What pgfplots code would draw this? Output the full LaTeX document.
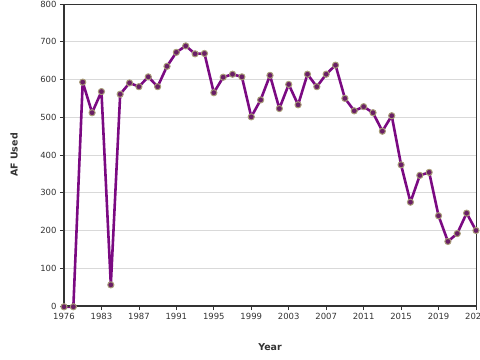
\documentclass[border=0pt]{standalone}
\usepackage{fontspec}
\setmainfont{DejaVu Sans}
\usepackage{pgfplots}
\pgfplotsset{compat=1.18}
\definecolor{linepurple}{HTML}{7B0A82}
\definecolor{markfill}{HTML}{6A1F66}
\definecolor{markedge}{HTML}{A89C78}
\definecolor{gridgrey}{HTML}{D9D9D9}
\definecolor{axisdark}{HTML}{333333}
\begin{document}
\begin{tikzpicture}
\begin{axis}[
  at={(0,0)}, anchor=south west,
  scale only axis,
  width=412bp, height=302bp,
  xmin=0, xmax=44, ymin=0, ymax=800,
  xtick={0,4,8,12,16,20,24,28,32,36,40,44},
  xticklabels={1976,1983,1987,1991,1995,1999,2003,2007,2011,2015,2019,2023},
  ytick={0,100,200,300,400,500,600,700,800},
  xtick pos=bottom, ytick pos=left,
  tick align=outside,
  major tick length=4bp,
  tick style={axisdark, line width=0.8pt},
  ymajorgrids, grid style={gridgrey, line width=0.6pt},
  axis line style={axisdark, line width=0.8pt},
  tick label style={font=\fontsize{8.5}{10}\selectfont, text=axisdark},
  /pgf/number format/assume math mode=true,
  /pgf/number format/1000 sep={},
  xlabel={\textbf{Year}}, ylabel={\textbf{AF Used}},
  label style={font=\fontsize{9.5}{11}\selectfont, text=axisdark},
  xlabel style={at={(0.5,0)}, anchor=center, yshift=-41bp},
  ylabel style={at={(0,0.5)}, anchor=center, yshift=50bp},
  clip=false,
]
\addplot[linepurple, line width=2.6pt, line join=round, line cap=round,
  mark=*, mark size=3.1bp,
  mark options={fill=markfill, draw=markedge, line width=1pt}]
coordinates {
(0,-2) (1,-2) (2,593) (3,512) (4,568) (5,56) (6,561) (7,591) (8,581) (9,607)
(10,581) (11,635) (12,672) (13,689) (14,668) (15,669) (16,565) (17,606) (18,614) (19,607)
(20,501) (21,546) (22,611) (23,523) (24,587) (25,533) (26,614) (27,581) (28,614) (29,638)
(30,550) (31,517) (32,528) (33,512) (34,463) (35,504) (36,374) (37,275) (38,346) (39,354)
(40,239) (41,171) (42,192) (43,246) (44,200)
};
\draw[axisdark, line width=1.8pt] (rel axis cs:0,1) -- (rel axis cs:0,0) -- (rel axis cs:1,0);
\end{axis}
\pgfresetboundingbox
\path (-64bp,-54bp) rectangle (416bp,306bp);
\end{tikzpicture}
\end{document}
